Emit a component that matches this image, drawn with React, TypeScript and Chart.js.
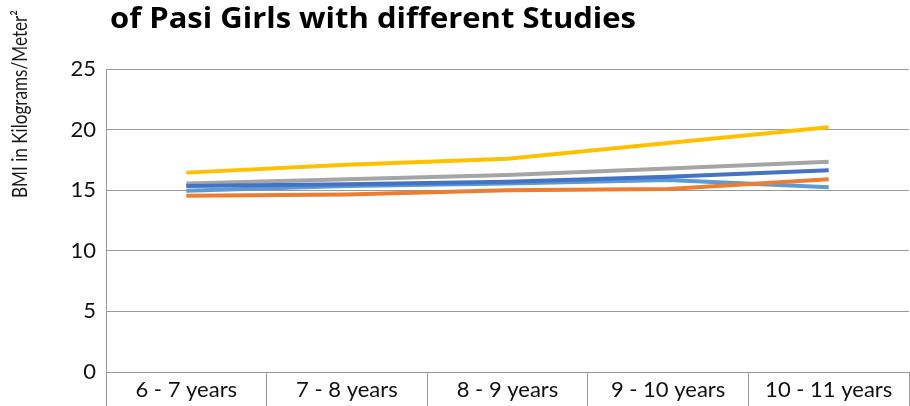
import React, { useEffect, useRef } from "react";
import { Chart, registerables } from "chart.js";

Chart.register(...registerables);

const categories = ["6 - 7 years", "7 - 8 years", "8 - 9 years", "9 - 10 years", "10 - 11 years"];
const seriesBlue = [15.35, 15.5, 15.7, 16.1, 16.65];
const seriesOrange = [14.55, 14.65, 15.0, 15.1, 15.9];
const seriesGray = [15.55, 15.9, 16.25, 16.8, 17.35];
const seriesYellow = [16.45, 17.1, 17.6, 18.9, 20.2];
const seriesLightBlue = [14.95, 15.35, 15.55, 15.85, 15.25];
const yTicks = [0, 5, 10, 15, 20, 25];
const titleText = "of Pasi Girls with different Studies";
const yLabelText = "BMI in Kilograms/Meter²";

const TICK_FONT = "Lato, 'Open Sans', sans-serif";
const TITLE_FONT = "'Open Sans', Lato, sans-serif";

const overlayPlugin = {
  id: "overlay",
  afterDraw(chart: any) {
    const ctx = chart.ctx;
    ctx.save();
    ctx.fillStyle = "#000";
    ctx.font = `bold 29px ${TITLE_FONT}`;
    const w = ctx.measureText(titleText).width;
    ctx.translate(110, 20);
    ctx.scale(526 / w, 1);
    ctx.textAlign = "left";
    ctx.textBaseline = "middle";
    ctx.fillText(titleText, 0, 0);
    ctx.restore();

    ctx.save();
    ctx.translate(20, 104);
    ctx.rotate(-Math.PI / 2);
    ctx.fillStyle = "#1a1a1a";
    ctx.font = `21px ${TICK_FONT}`;
    const lw = ctx.measureText(yLabelText).width;
    ctx.scale(188 / lw, 1);
    ctx.textAlign = "center";
    ctx.textBaseline = "middle";
    ctx.fillText(yLabelText, 0, 0);
    ctx.restore();
  },
};

export default function App() {
  const ref = useRef<HTMLCanvasElement | null>(null);
  useEffect(() => {
    document.body.style.margin = "0";
    const mk = (label: string, data: number[], color: string) => ({
      label,
      data,
      borderColor: color,
      backgroundColor: color,
      borderWidth: 4,
      pointRadius: 0,
      tension: 0,
      fill: false,
    });
    const chart = new Chart(ref.current as HTMLCanvasElement, {
      type: "line",
      data: {
        labels: categories,
        datasets: [
          mk("Series 1", seriesBlue, "#4472C4"),
          mk("Series 2", seriesOrange, "#ED7D31"),
          mk("Series 3", seriesGray, "#A5A5A5"),
          mk("Series 4", seriesYellow, "#FFC000"),
          mk("Series 5", seriesLightBlue, "#5B9BD5"),
        ],
      },
      options: {
        animation: false,
        responsive: false,
        maintainAspectRatio: false,
        layout: { padding: { left: 0, top: 69, right: 1, bottom: 0 } },
        plugins: { legend: { display: false }, tooltip: { enabled: false }, title: { display: false } },
        scales: {
          x: {
            type: "category",
            offset: true,
            grid: {
              display: true,
              drawOnChartArea: false,
              drawTicks: true,
              tickLength: 34,
              offset: true,
              color: "#999999",
              lineWidth: 1,
            },
            border: { display: true, color: "#999999" },
            ticks: {
              color: "#111111",
              font: { family: TICK_FONT, size: 22 },
              padding: -29,
              maxRotation: 0,
              autoSkip: false,
            },
            afterFit: (s: any) => {
              s.height = 34;
            },
          },
          y: {
            min: 0,
            max: 25,
            afterBuildTicks: (s: any) => {
              s.ticks = yTicks.map((v) => ({ value: v }));
            },
            grid: { color: "#999999", drawTicks: false, lineWidth: 1 },
            border: { display: true, color: "#999999" },
            ticks: {
              color: "#111111",
              font: { family: TICK_FONT, size: 22 },
              padding: 10,
            },
            afterFit: (s: any) => {
              s.width = 106;
            },
          },
        },
      },
      plugins: [overlayPlugin],
    });
    return () => chart.destroy();
  }, []);
  return (
    <div style={{ width: 910, height: 406, position: "relative" }}>
      <canvas ref={ref} width={910} height={406} style={{ display: "block", width: 910, height: 406 }} />
    </div>
  );
}
